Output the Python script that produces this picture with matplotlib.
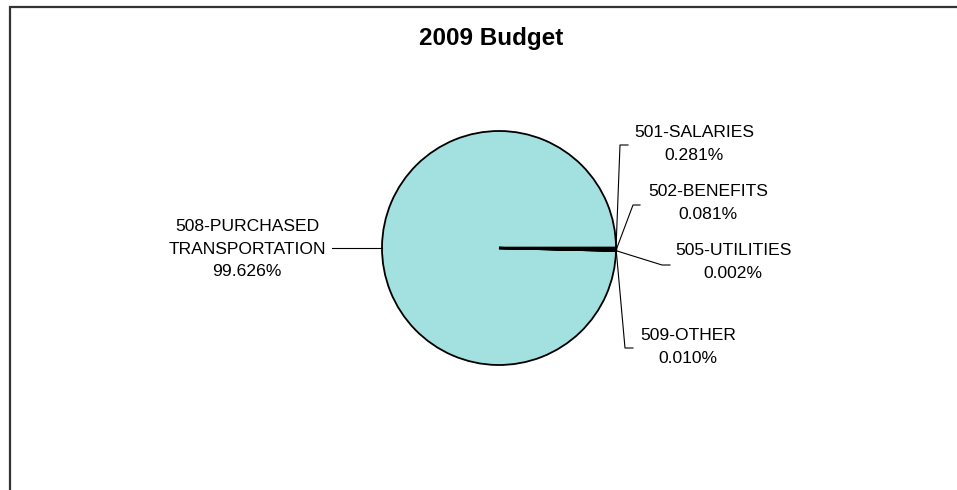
import matplotlib
matplotlib.use("Agg")
import matplotlib.pyplot as plt
import numpy as np

plt.rcParams['font.family'] = ['Liberation Sans', 'DejaVu Sans']

# Budget categories and their shares (%)
categories = ["501-SALARIES", "502-BENEFITS", "505-UTILITIES",
              "508-PURCHASED\nTRANSPORTATION", "509-OTHER"]
shares = [0.281, 0.081, 0.002, 99.626, 0.010]
slice_colors = ["#9999FF", "#993366", "#FFFFCC", "#A3E0E0", "#660066"]
title = "2009 Budget"

W, H = 957, 490
fig = plt.figure(figsize=(W / 100, H / 100), dpi=100)
ax = fig.add_axes([0, 0, 1, 1])

# chart frame (top and left edges visible)
ax.plot([9.5, 9.5, W + 5], [H + 5, 6.5, 6.5], color="#333333", lw=1.6,
        solid_joinstyle='miter', clip_on=False)

cx, cy, r = 499, 248, 117
wedges, _ = ax.pie(shares, colors=slice_colors, startangle=0, counterclock=True,
                   center=(cx, cy), radius=r, frame=True,
                   wedgeprops=dict(edgecolor='black', linewidth=1.3,
                                   joinstyle='miter'))
# thin slices: slightly heavier outline so their shared edges read as one spoke
for i, w in enumerate(wedges):
    if i != 3:
        w.set_linewidth(1.6)
        w.set_zorder(w.get_zorder() + 1)
ax.set_xlim(0, W)
ax.set_ylim(H, 0)
ax.axis('off')

# label layout: text centre, elbow point, leader end
layout = {
    0: dict(text=(694, 144), elbow=(620, 145), end=(628, 145)),
    1: dict(text=(708, 203), elbow=(633, 205), end=(640, 205)),
    2: dict(text=(733, 262), elbow=(662, 265), end=(670, 265)),
    3: dict(text=(247, 249), elbow=(332, 248), end=(332, 248)),
    4: dict(text=(688, 347), elbow=(625, 348), end=(633, 348)),
}

for i, (w, name, val) in enumerate(zip(wedges, categories, shares)):
    mid = np.deg2rad((w.theta1 + w.theta2) / 2)
    if i == 3:
        mid = np.pi
    ex, ey = cx + r * np.cos(mid), cy + r * np.sin(mid)
    lay = layout[i]
    ax.plot([ex, lay['elbow'][0], lay['end'][0]],
            [ey, lay['elbow'][1], lay['end'][1]], color='black', lw=0.8)
    ax.text(lay['text'][0], lay['text'][1], f"{name}\n{val:.3f}%",
            ha='center', va='center', fontsize=12.6, linespacing=1.64,
            color='black')

ax.text(491, 38, title, ha='center', va='center', fontsize=17.5,
        fontweight='bold')

fig.savefig("out.png", dpi=100)
